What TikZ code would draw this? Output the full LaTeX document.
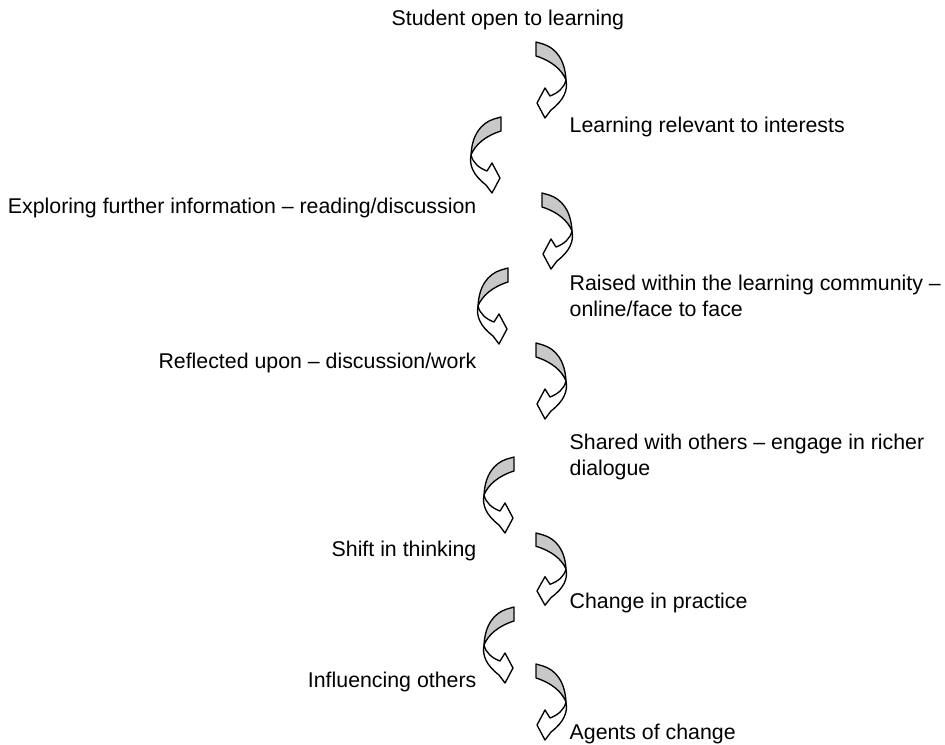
\documentclass[tikz,border=0pt]{standalone}
\usepackage{fontspec}
\setmainfont{Liberation Sans}

\tikzset{
  % one twisted curved arrow, gray band on top, open head at the lower left
  curl/.pic={
    \filldraw[fill=white] (30,38) .. controls (32,48) and (28,58) .. (15,68) -- (9,76) -- (1,61) -- (9,46) -- (14,54) .. controls (22,51) and (28,46) .. (30,38) -- cycle;
    \filldraw[fill=bandgray] (0,0) -- (7,2) .. controls (20,6) and (29,18) .. (30,38) .. controls (26,28) and (16,19) .. (0,14) -- cycle;
  },
  lbl/.style={font=\fontsize{16}{19.5}\selectfont, inner sep=0pt, align=left},
}
\definecolor{bandgray}{RGB}{200,200,200}

\begin{document}
\begin{tikzpicture}[x=0.75pt, y=-0.75pt, line width=1pt, line join=round]
\useasboundingbox (0,0) rectangle (945,744);

% steps down the page (two-line labels sit on their last line)
\node[lbl, anchor=base west] (student) at (391,25) {Student open to learning};
\node[lbl, anchor=base west] (relevant) at (569,132) {Learning relevant to interests};
\node[lbl, anchor=base east] (exploring) at (477,213) {Exploring further information -- reading/discussion};
\node[lbl, anchor=base west] (raised) at (569,316) {Raised within the learning community --\\online/face to face};
\node[lbl, anchor=base east] (reflected) at (477,368) {Reflected upon -- discussion/work};
\node[lbl, anchor=base west] (shared) at (569,475) {Shared with others -- engage in richer\\dialogue};
\node[lbl, anchor=base east] (shift) at (477,556) {Shift in thinking};
\node[lbl, anchor=base west] (practice) at (569,608) {Change in practice};
\node[lbl, anchor=base east] (influencing) at (477,687) {Influencing others};
\node[lbl, anchor=base west] (agents) at (569,739) {Agents of change};

% arrows bending to the right
\pic at (536,42) {curl};
\pic at (542,193) {curl};
\pic at (536,343) {curl};
\pic[yscale=0.95] at (536,533) {curl};
\pic at (536,664) {curl};

% arrows bending to the left
\pic[xscale=-1] at (501,117) {curl};
\pic[xscale=-1] at (508,268) {curl};
\pic[xscale=-1] at (514,457) {curl};
\pic[xscale=-1] at (514,607) {curl};
\end{tikzpicture}
\end{document}
